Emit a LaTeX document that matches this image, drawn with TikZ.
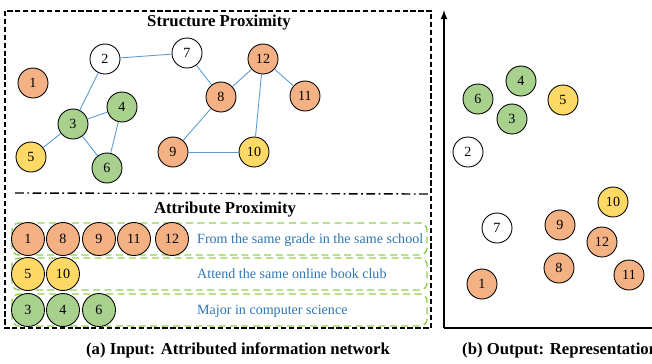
\documentclass[tikz,border=0pt]{standalone}
\usepackage{fontspec}
\setmainfont{Liberation Serif}
\usetikzlibrary{arrows,positioning,calc}

\definecolor{orangenode}{HTML}{F4B183}
\definecolor{greennode}{HTML}{A9D18E}
\definecolor{yellownode}{HTML}{FFD966}
\definecolor{edgeblue}{HTML}{5B9BD5}
\definecolor{textblue}{HTML}{2E75B6}
\definecolor{boxgreen}{HTML}{92D050}

\begin{document}
\begin{tikzpicture}[x = 0.02cm, y = -0.02cm,
    vertex/.style = {draw, circle, minimum size = 0.6cm, inner sep = 0pt, line width = 0.5pt, font = \fontsize{8}{8}\selectfont},
    attr/.style = {vertex, minimum size = 0.66cm},
    orng/.style = {fill = orangenode},
    grn/.style = {fill = greennode},
    ylw/.style = {fill = yellownode},
    link/.style = {edgeblue, line width = 0.5pt},
    groupbox/.style = {boxgreen, line width = 0.8pt, dash pattern = on 4pt off 2.5pt, rounded corners = 4pt},
    groupname/.style = {anchor = west, textblue, font = \fontsize{8}{8}\selectfont},
    title/.style = {font = \fontsize{9.5}{9.5}\selectfont\bfseries}]
      \useasboundingbox (0, 0) rectangle (652, 363);

      % left panel
      \draw[line width = 0.8pt, dash pattern = on 3pt off 1.5pt] (5, 11) rectangle (431, 328);
      \draw[line width = 0.8pt, dash pattern = on 5pt off 2pt on 1pt off 2pt] (15, 193) -- (428, 194);
      \node[title] at (219, 23) (st) {Structure Proximity};
      \node[title] at (225, 210) (at) {Attribute Proximity};

      \node[vertex, orng] at ( 33,  83) (s1)  {1};
      \node[vertex]       at (105,  59) (s2)  {2};
      \node[vertex, grn]  at ( 73, 124) (s3)  {3};
      \node[vertex, grn]  at (122, 107) (s4)  {4};
      \node[vertex, ylw]  at ( 31, 157) (s5)  {5};
      \node[vertex, grn]  at (107, 168) (s6)  {6};
      \node[vertex]       at (187,  53) (s7)  {7};
      \node[vertex, orng] at (221,  97) (s8)  {8};
      \node[vertex, orng] at (173, 152) (s9)  {9};
      \node[vertex, ylw]  at (254, 152) (s10) {10};
      \node[vertex, orng] at (305,  96) (s11) {11};
      \node[vertex, orng] at (263,  59) (s12) {12};

      \draw[link] (s2) -- (s7);
      \draw[link] (s2) -- (s3);
      \draw[link] (s3) -- (s4);
      \draw[link] (s3) -- (s5);
      \draw[link] (s3) -- (s6);
      \draw[link] (s4) -- (s6);
      \draw[link] (s7) -- (s8);
      \draw[link] (s8) -- (s9);
      \draw[link] (s9) -- (s10);
      \draw[link] (s8) -- (s12);
      \draw[link] (s12) -- (s10);
      \draw[link] (s12) -- (s11);

      % attribute groups
      \draw[groupbox] (12, 223) rectangle (427, 255);
      \draw[groupbox] (12, 258) rectangle (427, 290);
      \draw[groupbox] (12, 294) rectangle (427, 326);

      \node[attr, orng] at ( 28, 239) (a1)  {1};
      \node[attr, orng] at ( 63, 239) (a8)  {8};
      \node[attr, orng] at ( 99, 239) (a9)  {9};
      \node[attr, orng] at (134, 239) (a11) {11};
      \node[attr, orng] at (172, 239) (a12) {12};
      \node[attr, ylw]  at ( 28, 274) (a5)  {5};
      \node[attr, ylw]  at ( 63, 274) (a10) {10};
      \node[attr, grn]  at ( 28, 310) (a3)  {3};
      \node[attr, grn]  at ( 63, 310) (a4)  {4};
      \node[attr, grn]  at ( 99, 310) (a6)  {6};

      \node[groupname] at (191, 240) (g1) {From the same grade in the same school};
      \node[groupname] at (191, 274) (g2) {Attend the same online book club};
      \node[groupname] at (191, 311) (g3) {Major in computer science};

      \node[title] at (238, 350) (capa) {(a) Input: Attributed information network};

      % right panel
      \coordinate (origin) at (444, 328);
      \coordinate (ytop) at (444, 10);
      \coordinate (xend) at (660, 328);
      \draw[line width = 0.8pt, -latex] (origin) -- (ytop);
      \draw[line width = 0.8pt] (origin) -- (xend);

      \node[vertex, orng] at (482, 284) (r1)  {1};
      \node[vertex]       at (468, 152) (r2)  {2};
      \node[vertex, grn]  at (512, 119) (r3)  {3};
      \node[vertex, grn]  at (521,  81) (r4)  {4};
      \node[vertex, ylw]  at (563, 100) (r5)  {5};
      \node[vertex, grn]  at (478,  99) (r6)  {6};
      \node[vertex]       at (497, 228) (r7)  {7};
      \node[vertex, orng] at (559, 268) (r8)  {8};
      \node[vertex, orng] at (560, 225) (r9)  {9};
      \node[vertex, ylw]  at (613, 202) (r10) {10};
      \node[vertex, orng] at (629, 275) (r11) {11};
      \node[vertex, orng] at (602, 242) (r12) {12};

      \node[title, anchor = west] at (456, 350) (capb) {(b) Output: Representation};
    \end{tikzpicture}
\end{document}
